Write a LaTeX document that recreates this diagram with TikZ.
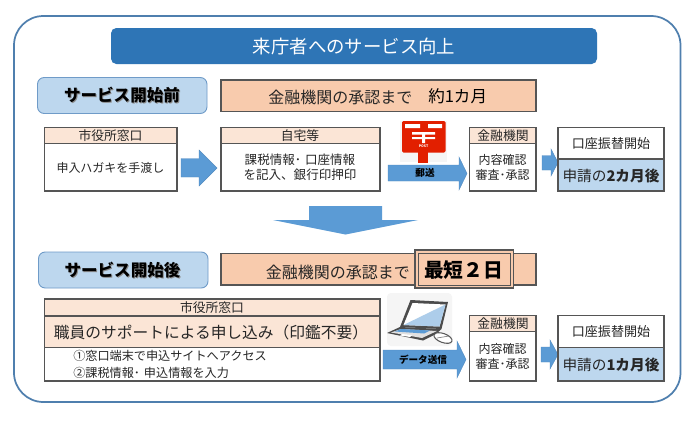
\documentclass[tikz,border=0pt]{standalone}
\usepackage{fontspec}
\setmainfont{Noto Sans CJK JP}
\usetikzlibrary{calc}
\definecolor{frameblue}{HTML}{4F7FAE}
\definecolor{titleblue}{HTML}{2E75B6}
\definecolor{labelblue}{HTML}{BDD7EE}
\definecolor{labeledge}{HTML}{6F9BC8}
\definecolor{orangefill}{HTML}{F8CBAD}
\definecolor{pinkfill}{HTML}{FBE5D6}
\definecolor{arrowblue}{HTML}{5B9BD5}
\definecolor{boxedge}{HTML}{555555}
\definecolor{postred}{HTML}{E21F00}
\newcommand{\fz}[1]{\fontsize{#1pt}{#1pt}\selectfont}
% x0,xh,x1 / ytop, ybodytop, ybodybot, ybot
\newcommand{\blockarrow}[7]{%
  \fill[arrowblue,draw=arrowblue!90!black,line width=.3pt]
    (#1,#5)--(#2,#5)--(#2,#4)--(#3,{(#4+#7)/2})--(#2,#7)--(#2,#6)--(#1,#6)--cycle;}
\tikzset{x=.75pt,y=-.75pt,
  boxline/.style={draw=boxedge,line width=.9pt},
  pink/.style={boxline,fill=pinkfill},
  whitebox/.style={boxline,fill=white},
  band/.style={boxline,fill=orangefill},
  tag/.style={draw=labeledge,line width=.7pt,fill=labelblue,rounded corners=5pt},
  txt/.style={inner sep=0pt,text=black!85,align=center},
  tagtxt/.style={inner sep=0pt,font=\fz{12.4}\bfseries,text=black},
  tagshadow/.style={inner sep=0pt,font=\fz{12.4}\bfseries,text=black!45},
}
\begin{document}
\begin{tikzpicture}
\useasboundingbox (0,0) rectangle (690,422);
\fill[white] (0,0) rectangle (690,422);
\draw[frameblue,line width=1.3pt,rounded corners=22pt] (14,16) rectangle (680.5,402);
% title
\fill[titleblue,rounded corners=4pt] (111,28) rectangle (597,64);
\node[txt,text=white,font=\fz{13.8}] (title) at (354,46) {来庁者へのサービス向上};
% before
\path[tag] (37.5,77.5) rectangle (207,113.5);
\node[tagshadow] (beforeS) at (123,96) {サービス開始前};
\node[tagtxt] (before) at (122,95) {サービス開始前};
\path[band] (221,80) rectangle (536,111.5);
\node[txt,font=\fz{12},anchor=west] (bandA) at (268,97) {金融機関の承認まで};
\node[txt,font=\fz{12.4},anchor=west,text=black] (bandB) at (428,96.5) {約1カ月};
% box 1
\path[whitebox] (44.5,127.5) rectangle (177,191);
\path[pink] (44.5,127.5) rectangle (177,143.5);
\node[txt,font=\fz{9.6}] (b1h) at (110.5,135.5) {市役所窓口};
\node[txt,font=\fz{9}] (b1t) at (110.5,167.5) {申入ハガキを手渡し};
\blockarrow{181}{199}{217}{150}{158.5}{177}{186}
% box 2
\path[whitebox] (221,127.5) rectangle (380,191);
\path[pink] (221,127.5) rectangle (380,143.5);
\node[txt,font=\fz{9.6}] (b2h) at (300,135.5) {自宅等};
\node[txt,font=\fz{9.4}] (b2t1) at (300,160) {課税情報･\hspace{3pt}口座情報};
\node[txt,font=\fz{9.4}] (b2t2) at (300,175) {を記入、銀行印押印};
% postbox
\fill[black!4] (400,121) rectangle (447,162);
\fill[postred,rounded corners=1pt] (402,121) rectangle (445.5,152.5);
\fill[postred] (418,152) rectangle (428,163);
\fill[white] (405,124) rectangle (420,128) (428,124) rectangle (442,128)
  (412,132) rectangle (435,134.5) (412,137) rectangle (435,139) (422,134) rectangle (425,143);
\node[inner sep=0pt,text=white,font=\fz{2.6}\bfseries] (post) at (423.5,146.5) {POST};
\blockarrow{388}{459}{467}{157}{165}{181}{190}
\node[inner sep=0pt,font=\fz{7.2}\bfseries,text=black] (mail) at (425,172.5) {郵送};
% box 3
\path[whitebox] (469.5,127.5) rectangle (536,191);
\path[pink] (469.5,127.5) rectangle (536,143.5);
\node[txt,font=\fz{9.6}] (b3h) at (503,135.5) {金融機関};
\node[txt,font=\fz{9}] (b3a) at (502.5,160) {内容確認};
\node[txt,font=\fz{9}] (b3b) at (502.5,174.5) {審査･承認};
\blockarrow{542}{551}{558}{149}{155.5}{170}{176}
% box 4
\path[whitebox] (558,127.5) rectangle (664,191);
\path[boxline,fill=labelblue] (558,159) rectangle (664,191);
\node[txt,font=\fz{9.8}] (b4h) at (611,144) {口座振替開始};
\node[txt,font=\fz{11}] (b4t) at (611,175.5) {申請の\textbf{2カ月後}};
% big arrow
\fill[arrowblue] (309,206) -- (382,206) -- (382,220) -- (418,220) -- (345.5,234.5) -- (273,220) -- (309,220) -- cycle;
% after
\path[tag] (38.5,252) rectangle (208,288);
\node[tagshadow] (afterS) at (123.5,271) {サービス開始後};
\node[tagtxt] (after) at (122.5,270) {サービス開始後};
\path[band] (221,253.5) rectangle (536,285);
\node[txt,font=\fz{12},anchor=west] (bandC) at (265.5,272) {金融機関の承認まで};
\path[draw=boxedge,line width=.8pt,fill=orangefill] (415,250) rectangle (513.5,288);
\path[draw=boxedge,line width=.6pt] (418,253) rectangle (510.5,285);
\node[inner sep=0pt,font=\fz{14.8}\bfseries,text=black] (fast) at (463.5,270) {最短２日};
% wide box
\path[whitebox] (44.5,299) rectangle (380,381);
\path[pink] (44.5,299) rectangle (380,347.5);
\draw[boxline] (44.5,316) -- (380,316);
\node[txt,font=\fz{11.8}] (wt) at (211,333) {職員のサポートによる申し込み（印鑑不要）};
\node[txt,font=\fz{9.6}] (wh) at (212,308) {市役所窓口};
\node[txt,font=\fz{9.1},anchor=west] (w1) at (73,356) {①窓口端末で申込サイトへアクセス};
\node[txt,font=\fz{9.1},anchor=west] (w2) at (73,372.5) {②課税情報･\hspace{3pt}申込情報を入力};
% laptop
\fill[black!4,rounded corners=3pt] (387,293) rectangle (452,346);
\fill[black!70] (410.5,300) -- (448,302) -- (441.5,329) -- (400,327) -- cycle;
\fill[white] (412.5,303) -- (445.5,304.5) -- (439.5,326.5) -- (403.5,325) -- cycle;
\fill[arrowblue!50] (445.5,304.5) -- (439.5,326.5) -- (403.5,325) -- cycle;
\fill[black!70] (400,327) -- (441.5,329) -- (436,334) -- (423,340.5) -- (387,333) -- cycle;
\fill[black!12] (401,329) -- (437,331) -- (422,338) -- (391,332.5) -- cycle;
\fill[arrowblue] (401,329) -- (430,330.5) -- (424,333.5) -- (395,331.5) -- cycle;
\fill[white] (402,334) -- (412,335) -- (410,337) -- (400,335.5) -- cycle;
\draw[black!65,fill=white,line width=.8pt,rotate around={-20:(443,338)}] (443,338) ellipse (9.5 and 4.5);
\draw[black!50,line width=.5pt] (437,338) -- (449,336);
\blockarrow{383}{457}{466}{341}{350}{369}{378}
\node[inner sep=0pt,font=\fz{7.2}\bfseries,text=black] (data) at (423,359.5) {データ送信};
% box 3b
\path[whitebox] (469.5,315.5) rectangle (536,381);
\path[pink] (469.5,315.5) rectangle (536,331.5);
\node[txt,font=\fz{9.6}] (c3h) at (503,324) {金融機関};
\node[txt,font=\fz{9}] (c3a) at (502.5,349) {内容確認};
\node[txt,font=\fz{9}] (c3b) at (502.5,363.5) {審査･承認};
\blockarrow{541}{550}{558}{340}{347}{362}{369}
% box 4b
\path[whitebox] (558,315.5) rectangle (664,381);
\path[boxline,fill=labelblue] (558,347.5) rectangle (664,381);
\node[txt,font=\fz{9.8}] (c4h) at (611,332) {口座振替開始};
\node[txt,font=\fz{11}] (c4t) at (611,364.5) {申請の\textbf{1カ月後}};
\end{tikzpicture}
\end{document}
